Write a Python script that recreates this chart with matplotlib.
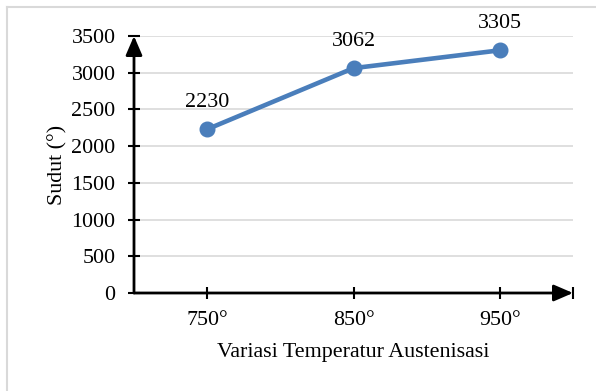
import matplotlib
matplotlib.use("Agg")
import matplotlib.pyplot as plt
from matplotlib.lines import Line2D

# data
categories = ["750°", "850°", "950°"]
sudut = [2230, 3062, 3305]
yticks = [0, 500, 1000, 1500, 2000, 2500, 3000, 3500]

BLUE = "#4A7EBB"
GRID = "#D9D9D9"
W, H = 596, 391
FS = 15.8

plt.rcParams["font.family"] = ["Liberation Serif", "DejaVu Serif"]
fig = plt.figure(figsize=(W / 100, H / 100), dpi=100)
ax = fig.add_axes([134 / W, (H - 293) / H, (573 - 134) / W, (293 - 36) / H])

x = list(range(len(categories)))
ax.plot(x, sudut, color=BLUE, lw=3.3, marker="o", ms=10.5, zorder=3, clip_on=False)
for xi, v in zip(x, sudut):
    ax.annotate(str(v), (xi, v), xytext=(0, 17), textcoords="offset pixels",
                ha="center", va="bottom", fontsize=FS)

ax.set_xlim(-0.5, 2.5)
ax.set_ylim(0, 3500)
ax.set_xticks(x, categories)
ax.set_yticks(yticks)
ax.tick_params(axis="both", labelsize=FS, direction="inout", width=1.5, color="k")
ax.tick_params(axis="y", length=8.5, pad=9)
ax.tick_params(axis="x", length=8, pad=9)
ax.yaxis.grid(True, color=GRID, lw=1.2)
ax.set_axisbelow(True)
for s in ax.spines.values():
    s.set_visible(False)

# axes drawn as arrows
arr = dict(arrowstyle="-|>,head_length=0.58,head_width=0.25", color="k", lw=2,
           shrinkA=0, shrinkB=0, mutation_scale=20)
ax.annotate("", xy=(0, 1), xytext=(0, 0), xycoords="axes fraction", arrowprops=arr)
ax.annotate("", xy=(1, 0), xytext=(0, 0), xycoords="axes fraction", arrowprops=arr)
ax.plot([1], [0], marker="|", ms=9, mew=1.5, color="k", transform=ax.transAxes, clip_on=False)

ax.set_ylabel("Sudut (°)", fontsize=FS, labelpad=3)
ax.set_xlabel("Variasi Temperatur Austenisasi", fontsize=FS, labelpad=9)

# chart border (top and left visible)
fig.add_artist(Line2D([7 / W, 1], [1 - 6.5 / H, 1 - 6.5 / H], color=GRID, lw=1.5))
fig.add_artist(Line2D([7 / W, 7 / W], [0, 1 - 6.5 / H], color=GRID, lw=1.5))

fig.savefig("out.png", dpi=100)
